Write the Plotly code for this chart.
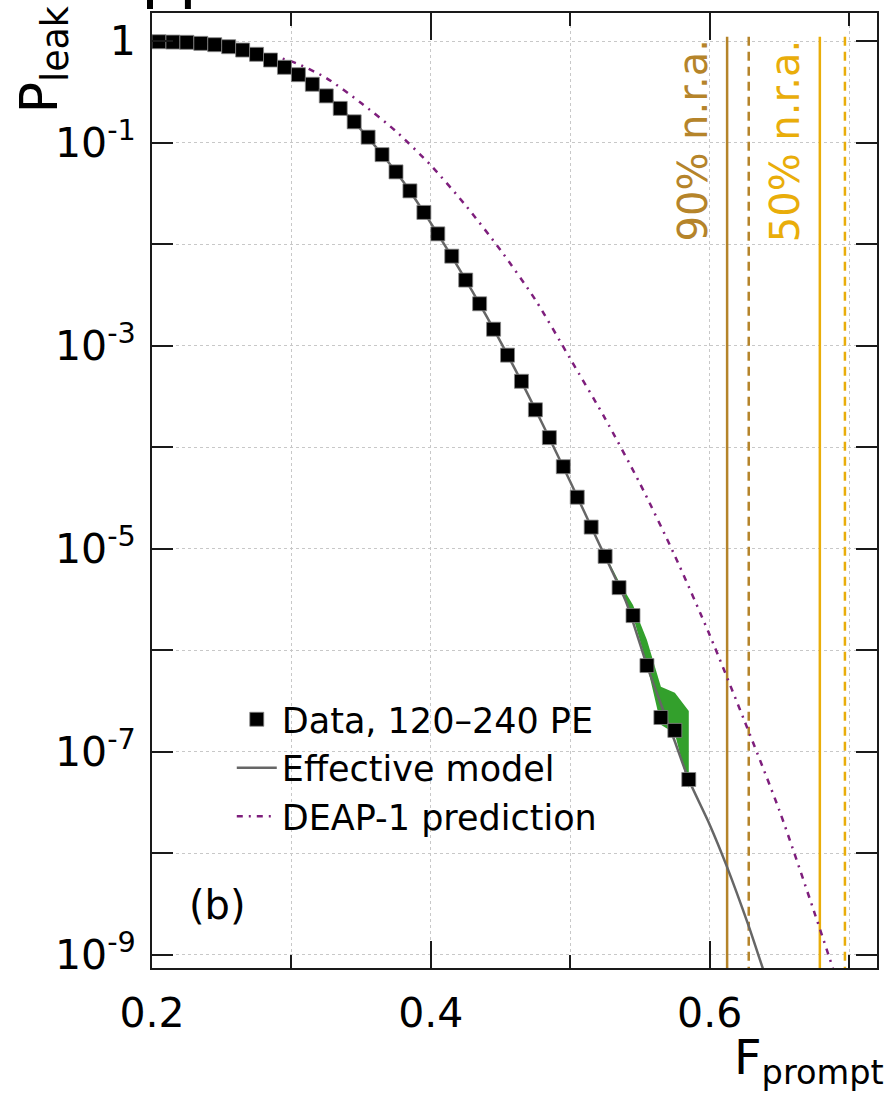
import plotly.graph_objects as go

# ---------------- data ----------------
F_data = [0.205, 0.215, 0.225, 0.235, 0.245, 0.255, 0.265, 0.275, 0.285, 0.295,
          0.305, 0.315, 0.325, 0.335, 0.345, 0.355, 0.365, 0.375, 0.385, 0.395,
          0.405, 0.415, 0.425, 0.435, 0.445, 0.455, 0.465, 0.475, 0.485, 0.495,
          0.505, 0.515, 0.525, 0.535, 0.545, 0.555, 0.565, 0.575, 0.585]
P_data = [0.984, 0.977, 0.971, 0.948, 0.920, 0.879, 0.815, 0.740, 0.650, 0.551,
          0.466, 0.375, 0.288, 0.217, 0.160, 0.113, 0.0760, 0.0514, 0.0334, 0.0205,
          0.0126, 7.60e-3, 4.42e-3, 2.58e-3, 1.45e-3, 8.05e-4, 4.45e-4, 2.33e-4, 1.24e-4, 6.41e-5,
          3.21e-5, 1.63e-5, 8.39e-6, 4.13e-6, 2.19e-6, 7.05e-7, 2.17e-7, 1.62e-7, 5.32e-8]

F_model = [0.20, 0.22, 0.24, 0.26, 0.28, 0.30, 0.32, 0.34, 0.36, 0.38, 0.40, 0.42,
           0.44, 0.46, 0.48, 0.50, 0.52, 0.54, 0.555, 0.565, 0.575, 0.585,
           0.600, 0.612, 0.628, 0.638, 0.650]
P_model = [1.0, 0.975, 0.935, 0.850, 0.695, 0.505, 0.330, 0.187, 0.0925, 0.0415, 0.0161, 5.8e-3,
           1.94e-3, 6.0e-4, 1.70e-4, 4.55e-5, 1.17e-5, 3.0e-6, 7.05e-7, 2.95e-7, 1.26e-7, 5.28e-8,
           1.91e-8, 7.59e-9, 1.91e-9, 7.41e-10, 2.5e-10]

F_deap = [0.200, 0.225, 0.250, 0.275, 0.300, 0.325, 0.350, 0.375, 0.400, 0.425, 0.450,
          0.475, 0.500, 0.525, 0.550, 0.575, 0.600, 0.625, 0.650, 0.675, 0.700]
P_deap = [0.991, 0.942, 0.871, 0.767, 0.631, 0.432, 0.245, 0.129, 0.0596, 0.0240, 8.71e-3,
          2.82e-3, 7.41e-4, 1.91e-4, 4.37e-5, 8.51e-6, 1.41e-6, 2.0e-7, 2.63e-8, 2.63e-9, 2.4e-10]

F_band = [0.525, 0.535, 0.545, 0.555, 0.565, 0.575, 0.585]
P_band_hi = [8.71e-6, 4.73e-6, 2.79e-6, 1.26e-6, 4.37e-7, 3.80e-7, 2.51e-7]
P_band_lo = [8.71e-6, 4.07e-6, 2.14e-6, 7.16e-7, 1.84e-7, 1.51e-7, 4.37e-8]

nra90_F = [0.6125, 0.628]   # solid, dashed
nra50_F = [0.679, 0.697]    # solid, dashed
nra_span = [1.1, 1e-10]

x_ticks = [0.2, 0.4, 0.6]
x_labels = ["0.2", "0.4", "0.6"]
x_minor = [0.3, 0.5, 0.7]
y_ticks = [1e-9, 1e-7, 1e-5, 1e-3, 1e-1, 1]
y_labels = ["10<sup>-9</sup>", "10<sup>-7</sup>", "10<sup>-5</sup>",
            "10<sup>-3</sup>", "10<sup>-1</sup>", "1"]
y_minor = [1e-8, 1e-6, 1e-4, 1e-2]

# ---------------- styling ----------------
W, H = 886, 1095
L, R, T, B = 152, 879, 13, 968
FONT = "DejaVu Sans"
BROWN = "#b5842a"
YELLOW = "#e9ad0a"
PURPLE = "#7e1e7c"
GREEN = "#33a02c"
GRAY = "#666666"
GRID = "#c8c8c8"
AX = "#1a1a1a"

def px_x(px):
    return (px - L) / (R - L)

def px_y(py):
    return 1 - (py - T) / (B - T)

fig = go.Figure()

# uncertainty band
fig.add_trace(go.Scatter(x=F_band, y=P_band_lo, mode="lines", line=dict(width=0, color=GREEN),
                         showlegend=False, hoverinfo="skip"))
fig.add_trace(go.Scatter(x=F_band, y=P_band_hi, mode="lines", line=dict(width=0, color=GREEN),
                         fill="tonexty", fillcolor=GREEN, showlegend=False, hoverinfo="skip"))

# vertical n.r.a. lines
for f, dash in zip(nra90_F, ["solid", "9px,6px"]):
    fig.add_trace(go.Scatter(x=[f, f], y=nra_span, mode="lines",
                             line=dict(color=BROWN, width=2.5, dash=dash),
                             showlegend=False, hoverinfo="skip"))
for f, dash in zip(nra50_F, ["solid", "9px,6px"]):
    fig.add_trace(go.Scatter(x=[f, f], y=nra_span, mode="lines",
                             line=dict(color=YELLOW, width=2.5, dash=dash),
                             showlegend=False, hoverinfo="skip"))

fig.add_trace(go.Scatter(x=F_deap, y=P_deap, mode="lines", name="DEAP-1 prediction",
                         legendrank=3, legendgroup="c",
                         line=dict(color=PURPLE, width=2.5, dash="6px,6px,2px,6px",
                                   shape="spline", smoothing=0.7)))
fig.add_trace(go.Scatter(x=F_model, y=P_model, mode="lines", name="Effective model",
                         legendrank=2, legendgroup="b",
                         line=dict(color=GRAY, width=2.5, shape="spline", smoothing=0.6)))
fig.add_trace(go.Scatter(x=F_data, y=P_data, mode="markers", name="Data, 120\u2013240 PE",
                         legendrank=1, legendgroup="a",
                         marker=dict(symbol="square", size=14, color="black",
                                     line=dict(width=0.8, color="#888888"))))

ann = []
ann.append(dict(text="90% n.r.a.", x=px_x(694), y=px_y(141), textangle=-90,
                font=dict(family=FONT, size=40, color=BROWN), showarrow=False,
                xref="paper", yref="paper", xanchor="center", yanchor="middle"))
ann.append(dict(text="50% n.r.a.", x=px_x(787), y=px_y(141), textangle=-90,
                font=dict(family=FONT, size=40, color=YELLOW), showarrow=False,
                xref="paper", yref="paper", xanchor="center", yanchor="middle"))
ann.append(dict(text="(b)", x=px_x(218), y=px_y(905),
                font=dict(family=FONT, size=40, color="black"), showarrow=False,
                xref="paper", yref="paper", xanchor="center", yanchor="middle"))
ann.append(dict(text="P<sub>leak</sub>", x=px_x(43), y=px_y(60), textangle=-90,
                font=dict(family=FONT, size=52, color="black"), showarrow=False,
                xref="paper", yref="paper", xanchor="center", yanchor="middle"))
ann.append(dict(text="F<sub>prompt</sub>", x=px_x(888), y=px_y(1060),
                font=dict(family=FONT, size=48, color="black"), showarrow=False,
                xref="paper", yref="paper", xanchor="right", yanchor="middle"))

shapes = [
    dict(type="rect", xref="paper", yref="paper", x0=px_x(147), x1=px_x(153),
         y0=px_y(9), y1=px_y(-2), fillcolor="black", line=dict(width=0)),
    dict(type="rect", xref="paper", yref="paper", x0=px_x(185), x1=px_x(191),
         y0=px_y(9), y1=px_y(-2), fillcolor="black", line=dict(width=0)),
]

axis_common = dict(showline=True, linecolor=AX, linewidth=2, mirror="ticks",
                   ticks="inside", tickcolor=AX, tickwidth=2,
                   showgrid=True, gridcolor=GRID, gridwidth=1, griddash="dot",
                   zeroline=False,
                   tickfont=dict(family=FONT, size=41, color="black"))

fig.update_layout(
    width=W, height=H,
    margin=dict(l=L, r=W - R, t=T, b=H - B, pad=0),
    paper_bgcolor="white", plot_bgcolor="white",
    font=dict(family=FONT, color="black"),
    xaxis=dict(range=[0.2, 0.72], tickvals=x_ticks, ticktext=x_labels,
               ticklen=27, ticklabelstandoff=8,
               minor=dict(tickvals=x_minor, ticklen=13, ticks="inside", tickcolor=AX,
                          tickwidth=2, showgrid=True, gridcolor=GRID, gridwidth=1,
                          griddash="dot"),
               **axis_common),
    yaxis=dict(type="log", range=[-9.131, 0.276], tickvals=y_ticks, ticktext=y_labels,
               ticklen=21, ticklabelstandoff=6,
               minor=dict(tickvals=y_minor, ticklen=21, ticks="inside", tickcolor=AX,
                          tickwidth=2, showgrid=True, gridcolor=GRID, gridwidth=1,
                          griddash="dot"),
               **axis_common),
    legend=dict(x=px_x(232), y=px_y(690), xanchor="left", yanchor="top",
                bgcolor="rgba(0,0,0,0)", font=dict(family=FONT, size=35, color="black"),
                itemwidth=40, tracegroupgap=4, traceorder="normal"),
    annotations=ann,
    shapes=shapes,
    showlegend=True,
)

fig.write_html("out.html")
